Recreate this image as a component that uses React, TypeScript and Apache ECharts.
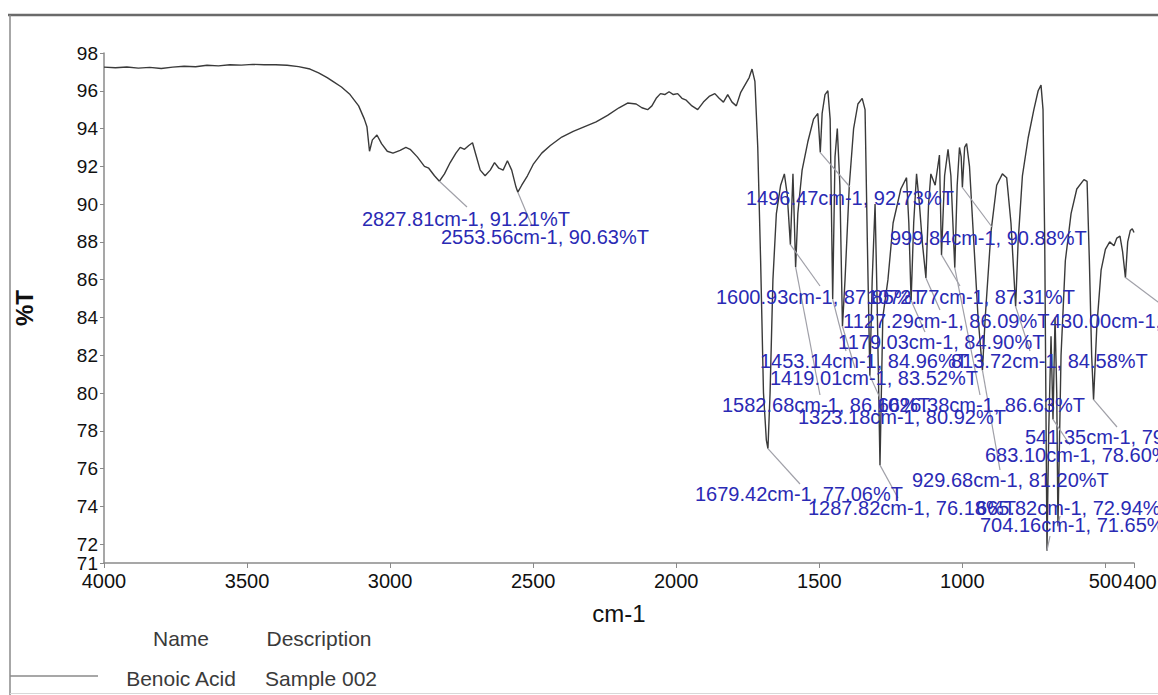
import React, { useEffect, useRef } from "react";
import * as echarts from "echarts";

// IR spectrum of benzoic acid: [wavenumber (cm-1), transmittance (%T)]
const spectrum: [number, number][] = [
  [4000, 97.25], [3960, 97.22], [3920, 97.26], [3880, 97.2], [3840, 97.24], [3800, 97.18],
  [3760, 97.25], [3720, 97.3], [3680, 97.27], [3640, 97.35], [3600, 97.32], [3560, 97.38],
  [3520, 97.36], [3480, 97.4], [3440, 97.38], [3400, 97.38], [3360, 97.35], [3320, 97.28],
  [3280, 97.15], [3250, 96.95], [3220, 96.7], [3200, 96.5], [3170, 96.2], [3140, 95.8],
  [3110, 95.2], [3090, 94.5], [3081, 94.1], [3072, 92.8], [3062, 93.4], [3046, 93.66],
  [3030, 93.2], [3010, 92.8], [2990, 92.7], [2965, 92.85], [2945, 93.0], [2930, 92.9],
  [2905, 92.5], [2880, 92.0], [2865, 91.9], [2845, 91.5], [2827.81, 91.21], [2810, 91.6],
  [2790, 92.2], [2770, 92.7], [2755, 93.0], [2740, 92.9], [2725, 93.1], [2712, 93.25],
  [2700, 92.6], [2685, 91.8], [2668, 91.5], [2650, 91.8], [2635, 92.2], [2620, 91.9],
  [2605, 91.8], [2590, 92.3], [2575, 91.8], [2560, 90.9], [2553.56, 90.63], [2540, 91.0],
  [2520, 91.5], [2500, 92.1], [2470, 92.7], [2440, 93.1], [2400, 93.55], [2360, 93.85],
  [2320, 94.1], [2280, 94.35], [2240, 94.7], [2200, 95.1], [2170, 95.35], [2140, 95.3],
  [2120, 95.1], [2100, 95.0], [2085, 95.2], [2070, 95.6], [2055, 95.85], [2040, 95.8],
  [2025, 95.95], [2010, 95.8], [1995, 95.85], [1980, 95.6], [1965, 95.5], [1945, 95.2],
  [1925, 95.0], [1905, 95.4], [1885, 95.7], [1865, 95.85], [1850, 95.6], [1835, 95.4],
  [1820, 95.8], [1805, 95.4], [1790, 95.2], [1775, 95.9], [1760, 96.3], [1745, 96.7],
  [1735, 97.15], [1725, 96.5], [1715, 93.0], [1705, 87.0], [1695, 80.0], [1685, 77.5],
  [1679.42, 77.06], [1672, 80.0], [1662, 86.0], [1650, 89.5], [1635, 91.0], [1622, 91.6],
  [1612, 90.5], [1600.93, 87.85], [1592, 91.6], [1587, 89.0], [1582.68, 86.66], [1575, 89.5],
  [1560, 91.8], [1540, 93.3], [1520, 94.5], [1505, 94.8], [1496.47, 92.73], [1490, 94.8],
  [1480, 95.8], [1470, 96.0], [1462, 94.5], [1453.14, 84.96], [1445, 92.5], [1437, 94.0],
  [1428, 91.0], [1419.01, 83.52], [1410, 86.0], [1395, 91.0], [1380, 94.0], [1365, 95.3],
  [1350, 95.6], [1340, 95.0], [1332, 88.0], [1323.18, 80.92], [1315, 86.0], [1305, 90.0],
  [1298, 85.0], [1287.82, 76.18], [1278, 84.0], [1260, 86.0], [1242, 89.0], [1215, 90.8],
  [1195, 91.4], [1187, 89.0], [1179.03, 84.9], [1170, 89.0], [1160, 91.6], [1150, 90.0],
  [1140, 88.0], [1127.29, 86.09], [1118, 90.0], [1110, 91.6], [1095, 91.0], [1080, 92.6],
  [1072.77, 87.31], [1062, 91.5], [1050, 92.9], [1040, 91.5], [1026.38, 86.63], [1018, 91.0],
  [1010, 93.0], [1004, 92.5], [999.84, 90.88], [992, 93.0], [985, 93.2], [975, 92.0],
  [960, 88.0], [945, 84.0], [929.68, 81.2], [920, 84.0], [900, 88.5], [880, 91.0],
  [860, 91.6], [845, 91.4], [830, 89.0], [813.72, 84.58], [805, 88.0], [790, 91.5],
  [770, 93.5], [750, 95.0], [735, 96.0], [725, 96.3], [718, 95.0], [712, 88.0],
  [704.16, 71.65], [698, 78.0], [690, 83.0], [683.1, 78.6], [676, 84.0], [670, 80.0],
  [665.82, 72.94], [655, 82.0], [640, 87.0], [620, 89.5], [600, 90.8], [575, 91.3],
  [564, 91.2], [556, 87.0], [548, 82.0], [541.35, 79.65], [530, 83.5], [515, 86.5],
  [500, 87.6], [485, 88.0], [470, 87.8], [460, 88.2], [449, 88.3], [440, 87.5],
  [430, 86.11], [422, 88.0], [413, 88.6], [406, 88.7], [400, 88.5],
];

// Picked peaks (wavenumber, %T)
const peakWavenumbers = [
  2827.81, 2553.56, 1496.47, 999.84, 1600.93, 1072.77, 1127.29, 430.0, 1179.03, 1453.14,
  813.72, 1419.01, 1582.68, 1026.38, 1323.18, 541.35, 683.1, 929.68, 1679.42, 1287.82,
  665.82, 704.16,
];
const peakTransmittance = [
  91.21, 90.63, 92.73, 90.88, 87.85, 87.31, 86.09, 86.11, 84.9, 84.96,
  84.58, 83.52, 86.66, 86.63, 80.92, 79.65, 78.6, 81.2, 77.06, 76.18,
  72.94, 71.65,
];

// Where each peak annotation sits: [text left, text middle, leader end x, leader end y]
const peakLabelSpots: [number, number, number, number][] = [
  [362, 219, 467, 207], [441, 237, 532, 226], [746, 198, 850, 187], [890, 238, 992, 227],
  [716, 297, 820, 286], [867, 297, 960, 286], [843, 321, 940, 310], [1050, 321, 1162, 305],
  [838, 342, 925, 332], [760, 361, 846, 351], [951, 361, 1030, 351], [770, 378, 855, 368],
  [722, 405, 820, 395], [877, 405, 980, 395], [798, 417, 884, 407], [1025, 437, 1117, 427],
  [985, 455, 1070, 445], [912, 480, 1000, 470], [695, 494, 800, 484], [808, 508, 898, 498],
  [976, 508, 1060, 516], [980, 525, 1050, 536],
];

const yTickValues = [71, 72, 74, 76, 78, 80, 82, 84, 86, 88, 90, 92, 94, 96, 98];
const xTickValues = [4000, 3500, 3000, 2500, 2000, 1500, 1000, 500, 400];
const xLabelValues = [4000, 3500, 3000, 2500, 2000, 1500, 1000, 500];
const xEndLabel = 400;

const legendHeaders = ["Name", "Description"];
const legendRow = ["Benoic Acid", "Sample 002"];

const FONT = "'Liberation Sans', Arial, Helvetica, sans-serif";

export default function App() {
  const ref = useRef<HTMLDivElement>(null);

  useEffect(() => {
    if (!ref.current) return;
    const chart = echarts.init(ref.current, undefined, { renderer: "svg" });

    chart.setOption({
      animation: false,
      backgroundColor: "#ffffff",
      grid: { left: 104, top: 53, width: 1030, height: 510 },
      xAxis: {
        type: "value",
        inverse: true,
        min: 400,
        max: 4000,
        name: "cm-1",
        nameLocation: "middle",
        nameGap: 38,
        nameTextStyle: { fontFamily: FONT, fontSize: 24, color: "#111" },
        axisLine: { lineStyle: { color: "#8a8a8a", width: 1.5 } },
        axisTick: { show: true, length: 5, customValues: xTickValues, lineStyle: { color: "#8a8a8a" } },
        axisLabel: {
          customValues: xLabelValues,
          formatter: (v: number) => String(v),
          fontFamily: FONT,
          fontSize: 20,
          color: "#111",
          margin: 8,
        },
        splitLine: { show: false },
      },
      yAxis: {
        type: "value",
        min: 71,
        max: 98,
        name: "%T",
        nameLocation: "middle",
        nameRotate: 90,
        nameGap: 68,
        nameTextStyle: { fontFamily: FONT, fontSize: 24, fontWeight: "bold", color: "#111" },
        axisLine: { show: true, lineStyle: { color: "#8a8a8a", width: 1.5 } },
        axisTick: { show: true, length: 4, customValues: yTickValues, lineStyle: { color: "#8a8a8a" } },
        axisLabel: {
          customValues: yTickValues,
          formatter: (v: number) => String(v),
          fontFamily: FONT,
          fontSize: 19,
          color: "#111",
          margin: 6,
        },
        splitLine: { show: false },
      },
      series: [
        {
          type: "line",
          data: spectrum,
          showSymbol: false,
          lineStyle: { color: "#3a3a3a", width: 1.4 },
        },
      ],
    });

    // Peak annotations with leader lines from each picked peak
    const annotations: any[] = [];
    peakWavenumbers.forEach((wn, i) => {
      const t = peakTransmittance[i];
      const [px, py] = chart.convertToPixel({ gridIndex: 0 }, [wn, t]) as number[];
      const [lx, ly, ex, ey] = peakLabelSpots[i];
      annotations.push({
        type: "line",
        shape: { x1: px, y1: py, x2: ex, y2: ey },
        style: { stroke: "#a0a0a8", lineWidth: 1.2 },
        z: 5,
      });
      annotations.push({
        type: "text",
        x: lx,
        y: ly,
        style: {
          text: `${wn.toFixed(2)}cm-1, ${t.toFixed(2)}%T`,
          font: `20px ${FONT}`,
          fill: "#2a2ab4",
          textVerticalAlign: "middle",
          textAlign: "left",
        },
        z: 6,
      });
    });

    // The last tick label sits snug against "500", to the right of its tick
    const [endX, endY] = chart.convertToPixel({ gridIndex: 0 }, [xEndLabel, 71]) as number[];

    chart.setOption({
      graphic: [
        // frame
        { type: "line", shape: { x1: 8, y1: 15, x2: 1158, y2: 15 }, style: { stroke: "#6a6a6a", lineWidth: 2.5 } },
        { type: "line", shape: { x1: 10, y1: 15, x2: 10, y2: 695 }, style: { stroke: "#8a8a8a", lineWidth: 1.5 } },
        { type: "line", shape: { x1: 10, y1: 693.5, x2: 1158, y2: 693.5 }, style: { stroke: "#d8d8d8", lineWidth: 1 } },
        {
          type: "text",
          x: endX + 6,
          y: endY + 19,
          style: { text: String(xEndLabel), font: `20px ${FONT}`, fill: "#111", textAlign: "center", textVerticalAlign: "middle" },
        },
        // legend
        { type: "line", shape: { x1: 10, y1: 676, x2: 98, y2: 676 }, style: { stroke: "#8a8a8a", lineWidth: 1.5 } },
        { type: "text", x: 181, y: 638, style: { text: legendHeaders[0], font: `21px ${FONT}`, fill: "#3a3a3a", textAlign: "center", textVerticalAlign: "middle" } },
        { type: "text", x: 319, y: 638, style: { text: legendHeaders[1], font: `21px ${FONT}`, fill: "#3a3a3a", textAlign: "center", textVerticalAlign: "middle" } },
        { type: "text", x: 181, y: 678, style: { text: legendRow[0], font: `21px ${FONT}`, fill: "#3a3a3a", textAlign: "center", textVerticalAlign: "middle" } },
        { type: "text", x: 321, y: 678, style: { text: legendRow[1], font: `21px ${FONT}`, fill: "#3a3a3a", textAlign: "center", textVerticalAlign: "middle" } },
        ...annotations,
      ],
    });

    return () => chart.dispose();
  }, []);

  return (
    <div
      ref={ref}
      style={{ position: "fixed", left: 0, top: 0, width: 1158, height: 695, background: "#fff" }}
    />
  );
}
